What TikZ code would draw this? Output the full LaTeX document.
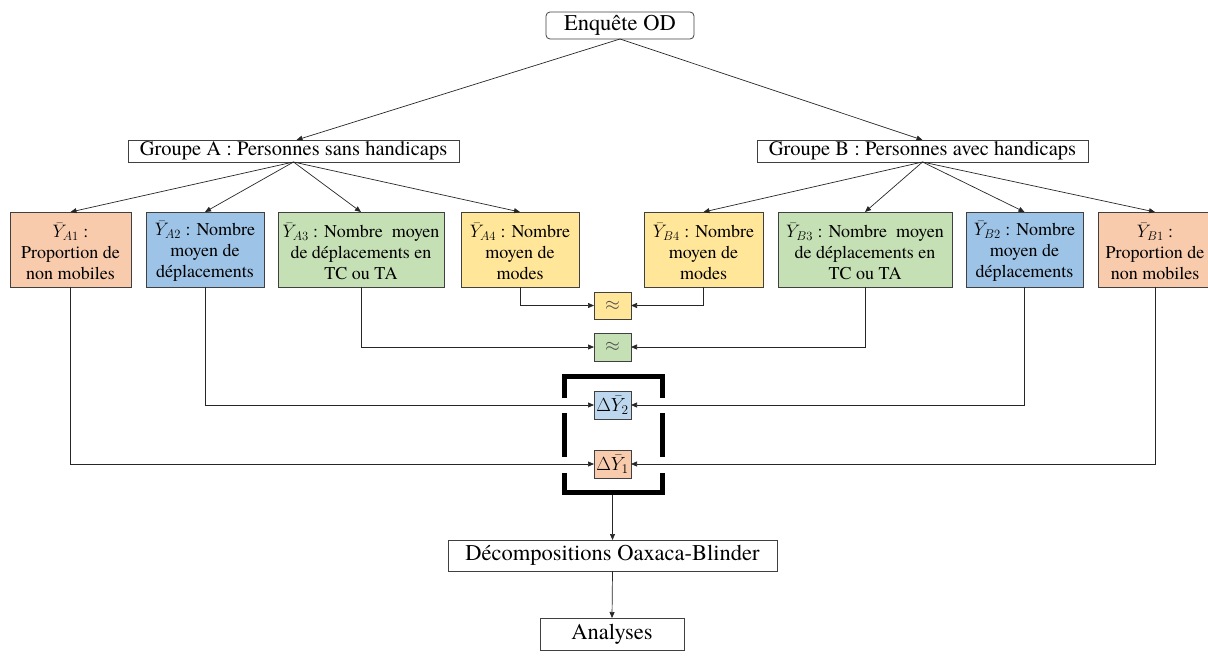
\documentclass[tikz,border=0pt]{standalone}
\usepackage{fix-cm}
\usepackage{fontspec}
\setmainfont{TeX Gyre Termes}
\usetikzlibrary{arrows.meta,calc}
\definecolor{csalmon}{HTML}{F8CBAD}
\definecolor{cblue}{HTML}{9DC3E6}
\definecolor{clblue}{HTML}{BDD7EE}
\definecolor{cgreen}{HTML}{C5E0B4}
\definecolor{cyellow}{HTML}{FFE699}
\definecolor{cborder}{HTML}{404040}
\begin{document}
\begin{tikzpicture}[x=1pt,y=-1pt,
  every node/.style={inner sep=0pt, outer sep=0pt},
  topbox/.style={draw=cborder, line width=0.8pt, fill=white},
  valbox/.style={draw=cborder, line width=0.8pt, minimum height=75pt},
  vtext/.style={align=center, font=\fontsize{18}{21}\selectfont},
  smallbox/.style={draw=cborder, line width=0.8pt, minimum width=37pt, minimum height=28pt, font=\fontsize{19}{22}\selectfont},
  conn/.style={line width=0.7pt, draw=black!85, -{Triangle[length=6pt,width=5pt]}},
  bracketln/.style={line width=5pt, line cap=butt, line join=miter, draw=black}]
\useasboundingbox (0,0) rectangle (1208,661);
\clip (0,0) rectangle (1208,661);

% top level
\node[topbox, rounded corners=4pt, minimum width=148pt, minimum height=27pt,
      font=\fontsize{22.5}{26}\selectfont] (enq) at (620,25.5) {Enquête OD};
\node[topbox, minimum width=331pt, minimum height=22pt,
      font=\fontsize{20.5}{24}\selectfont] (ga) at (293.5,151) {Groupe A : Personnes sans handicaps};
\node[topbox, minimum width=331pt, minimum height=22pt,
      font=\fontsize{20.5}{24}\selectfont] (gb) at (922.5,151) {Groupe B : Personnes avec handicaps};

% value boxes
\node[valbox, fill=csalmon, minimum width=121pt] (ya1) at (70.5,249.5) {};
\node[valbox, fill=cblue,   minimum width=118pt] (ya2) at (205,249.5) {};
\node[valbox, fill=cgreen,  minimum width=166pt] (ya3) at (361,249.5) {};
\node[valbox, fill=cyellow, minimum width=118pt] (ya4) at (520,249.5) {};
\node[valbox, fill=cyellow, minimum width=119pt] (yb4) at (703.5,249.5) {};
\node[valbox, fill=cgreen,  minimum width=174pt] (yb3) at (865,249.5) {};
\node[valbox, fill=cblue,   minimum width=117pt] (yb2) at (1024.5,249.5) {};
\node[valbox, fill=csalmon, minimum width=114pt] (yb1) at (1155,249.5) {};

\node[vtext] (ta1) at ([yshift=-2pt]ya1.center) {$\bar{Y}_{A1}$ :\\Proportion de\\non mobiles};
\node[vtext] (ta2) at ([yshift=-2pt]ya2.center) {$\bar{Y}_{A2}$ : Nombre\\moyen de\\déplacements};
\node[vtext] (ta3) at ([yshift=-2pt]ya3.center) {$\bar{Y}_{A3}$ : Nombre~ moyen\\de déplacements en\\TC ou TA};
\node[vtext] (ta4) at ([yshift=-2pt]ya4.center) {$\bar{Y}_{A4}$ : Nombre\\moyen de\\modes};
\node[vtext] (tb4) at ([yshift=-2pt]yb4.center) {$\bar{Y}_{B4}$ : Nombre\\moyen de\\modes};
\node[vtext] (tb3) at ([yshift=-2pt]yb3.center) {$\bar{Y}_{B3}$ : Nombre~ moyen\\de déplacements en\\TC ou TA};
\node[vtext] (tb2) at ([yshift=-2pt]yb2.center) {$\bar{Y}_{B2}$ : Nombre\\moyen de\\déplacements};
\node[vtext] (tb1) at ([yshift=-2pt]yb1.center) {$\bar{Y}_{B1}$ :\\Proportion de\\non mobiles};

% comparison boxes
\node[smallbox, fill=cyellow, minimum height=27pt] (eq4) at (612.5,305.5) {\color{black!70}$\approx$};
\node[smallbox, fill=cgreen] (eq3) at (612.5,347) {\color{black!70}$\approx$};
\node[smallbox, fill=clblue] (d2) at (612.5,405) {$\Delta\bar{Y}_2$};
\node[smallbox, fill=csalmon] (d1) at (612.5,464) {$\Delta\bar{Y}_1$};

% bottom boxes
\node[topbox, minimum width=329pt, minimum height=31pt,
      font=\fontsize{22.5}{26}\selectfont] (dec) at (612.5,555.5) {Décompositions Oaxaca-Blinder};
\node[topbox, minimum width=144pt, minimum height=32pt,
      font=\fontsize{22.5}{26}\selectfont] (ana) at (612,634) {Analyses};

% bracket
\draw[bracketln] (564,398) -- (564,376) -- (662,376) -- (662,398);
\draw[bracketln] (564,413) -- (564,457);
\draw[bracketln] (662,413) -- (662,457);
\draw[bracketln] (564,473) -- (564,492) -- (662,492) -- (662,473);
\coordinate (bk) at (612.5,494.5);

% connectors
\draw[conn] (enq.south) -- ([xshift=3pt]ga.north);
\draw[conn] (enq.south) -- (gb.north);
\foreach \t in {ya1,ya2,ya3,ya4} {\draw[conn] (ga.south) -- (\t.north);}
\foreach \t in {yb1,yb2,yb3,yb4} {\draw[conn] (gb.south) -- (\t.north);}

\draw[conn] (ya4.south) |- (eq4.west);
\draw[conn] (yb4.south) |- (eq4.east);
\draw[conn] (ya3.south) |- (eq3.west);
\draw[conn] (yb3.south) |- (eq3.east);
\draw[conn] (ya2.south) |- (d2.west);
\draw[conn] (yb2.south) |- (d2.east);
\draw[conn] (ya1.south) |- (d1.west);
\draw[conn] (yb1.south) |- (d1.east);

\draw[conn] (bk) -- (dec.north);
\draw[conn] (dec.south) -- (ana.north);
\end{tikzpicture}
\end{document}
